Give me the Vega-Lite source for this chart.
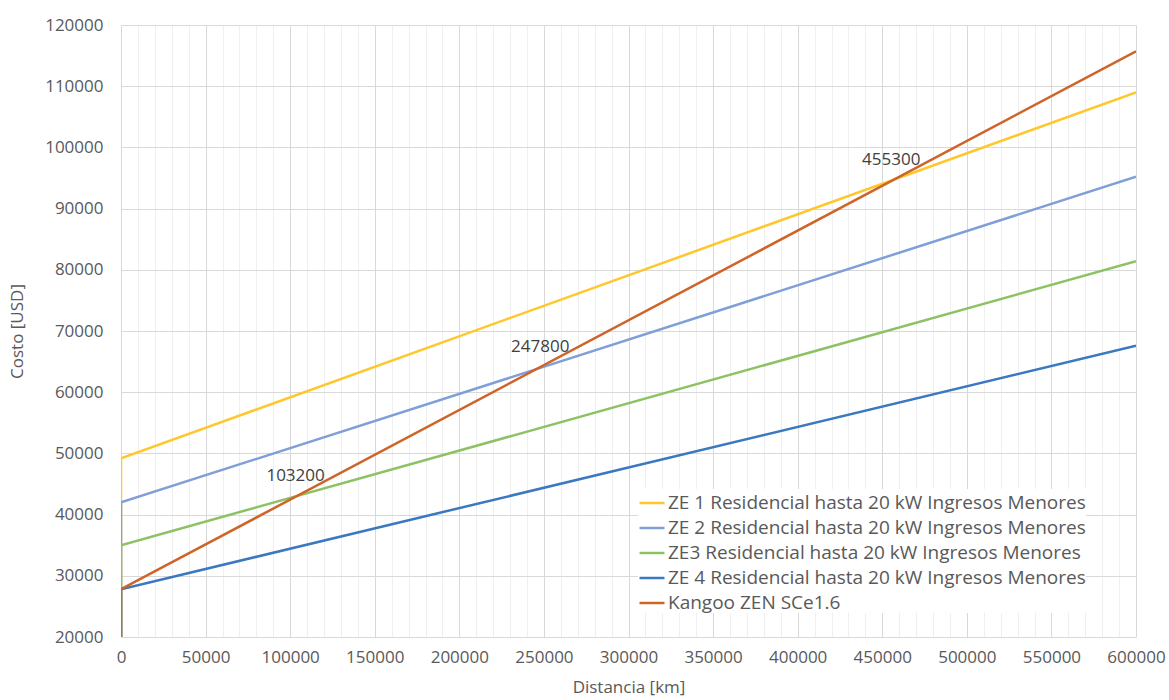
{
  "$schema": "https://vega.github.io/schema/vega-lite/v6.json",
  "width": 1015,
  "height": 612,
  "autosize": {"type": "none"},
  "padding": {"left": 121, "top": 25, "right": 33, "bottom": 63},
  "background": "white",
  "config": {
    "font": "Open Sans",
    "view": {"stroke": null},
    "axis": {"labelColor": "#595959", "titleColor": "#595959", "labelFontSize": 17, "titleFontSize": 17, "titleFontWeight": "normal", "ticks": false, "domain": false}
  },
  "datasets": {
    "lines": [
      {"serie": "ZE 1 Residencial hasta 20 kW Ingresos Menores", "distancia": 0, "costo": 20000, "o": 0},
      {"serie": "ZE 1 Residencial hasta 20 kW Ingresos Menores", "distancia": 0, "costo": 49200, "o": 1},
      {"serie": "ZE 1 Residencial hasta 20 kW Ingresos Menores", "distancia": 600000, "costo": 109000, "o": 2},
      {"serie": "ZE 2 Residencial hasta 20 kW Ingresos Menores", "distancia": 0, "costo": 20000, "o": 0},
      {"serie": "ZE 2 Residencial hasta 20 kW Ingresos Menores", "distancia": 0, "costo": 42000, "o": 1},
      {"serie": "ZE 2 Residencial hasta 20 kW Ingresos Menores", "distancia": 600000, "costo": 95200, "o": 2},
      {"serie": "ZE3 Residencial hasta 20 kW Ingresos Menores", "distancia": 0, "costo": 20000, "o": 0},
      {"serie": "ZE3 Residencial hasta 20 kW Ingresos Menores", "distancia": 0, "costo": 35000, "o": 1},
      {"serie": "ZE3 Residencial hasta 20 kW Ingresos Menores", "distancia": 600000, "costo": 81400, "o": 2},
      {"serie": "ZE 4 Residencial hasta 20 kW Ingresos Menores", "distancia": 0, "costo": 20000, "o": 0},
      {"serie": "ZE 4 Residencial hasta 20 kW Ingresos Menores", "distancia": 0, "costo": 27800, "o": 1},
      {"serie": "ZE 4 Residencial hasta 20 kW Ingresos Menores", "distancia": 600000, "costo": 67600, "o": 2},
      {"serie": "Kangoo ZEN SCe1.6", "distancia": 0, "costo": 20000, "o": 0},
      {"serie": "Kangoo ZEN SCe1.6", "distancia": 0, "costo": 27800, "o": 1},
      {"serie": "Kangoo ZEN SCe1.6", "distancia": 600000, "costo": 115700, "o": 2}
    ],
    "labels": [
      {"label": "103200", "distancia": 103200, "costo": 42950},
      {"label": "247800", "distancia": 247800, "costo": 64000},
      {"label": "455300", "distancia": 455300, "costo": 94500}
    ]
  },
  "encoding": {
    "x": {
      "field": "distancia", "type": "quantitative",
      "scale": {"domain": [0, 600000], "nice": false, "zero": false},
      "axis": {
        "title": "Distancia [km]",
        "values": [0,10000,20000,30000,40000,50000,60000,70000,80000,90000,100000,110000,120000,130000,140000,150000,160000,170000,180000,190000,200000,210000,220000,230000,240000,250000,260000,270000,280000,290000,300000,310000,320000,330000,340000,350000,360000,370000,380000,390000,400000,410000,420000,430000,440000,450000,460000,470000,480000,490000,500000,510000,520000,530000,540000,550000,560000,570000,580000,590000,600000],
        "labelExpr": "datum.value % 50000 === 0 ? format(datum.value, 'd') : ''",
        "labelPadding": 12,
        "titlePadding": 14,
        "gridColor": {"condition": {"test": "datum.value % 50000 === 0", "value": "#d9d9d9"}, "value": "#efefef"},
        "labelFlush": false,
        "labelOverlap": false
      }
    },
    "y": {
      "field": "costo", "type": "quantitative",
      "scale": {"domain": [20000, 120000], "nice": false, "zero": false},
      "axis": {"title": "Costo [USD]", "values": [20000,30000,40000,50000,60000,70000,80000,90000,100000,110000,120000], "format": "d", "gridColor": "#d9d9d9", "labelPadding": 18, "titlePadding": 18}
    }
  },
  "layer": [
    {
      "data": {"name": "lines"},
      "mark": {"type": "line", "strokeWidth": 2.5, "clip": true},
      "encoding": {
        "color": {
          "field": "serie", "type": "nominal",
          "scale": {
            "domain": ["ZE 1 Residencial hasta 20 kW Ingresos Menores", "ZE 2 Residencial hasta 20 kW Ingresos Menores", "ZE3 Residencial hasta 20 kW Ingresos Menores", "ZE 4 Residencial hasta 20 kW Ingresos Menores", "Kangoo ZEN SCe1.6"],
            "range": ["#FFC72C", "#7F9FD9", "#8DC264", "#3A78C0", "#CF6428"]
          },
          "legend": {
            "title": null, "orient": "none", "legendX": 517, "legendY": 464,
            "symbolType": "stroke", "symbolSize": 625, "symbolStrokeWidth": 2.5,
            "labelFontSize": 19, "labelColor": "#595959", "labelOffset": 2, "rowPadding": 1,
            "fillColor": "white", "labelLimit": 600
          }
        },
        "order": {"field": "o"}
      }
    },
    {
      "data": {"name": "labels"},
      "mark": {"type": "text", "fontSize": 17, "color": "#404040", "dy": -21, "baseline": "middle", "align": "center"},
      "encoding": {
        "text": {"field": "label"}
      }
    }
  ]
}
